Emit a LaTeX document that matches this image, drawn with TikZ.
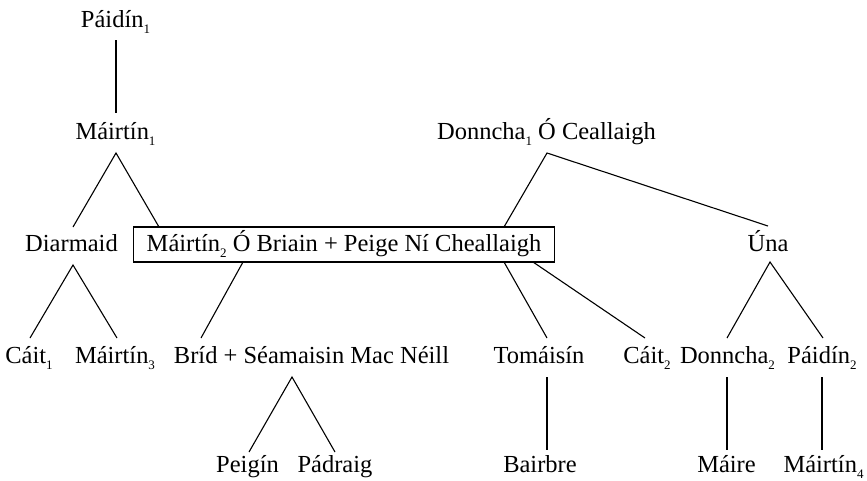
\documentclass[tikz,border=0pt]{standalone}
\usepackage{fontspec}
\setmainfont{Liberation Serif}
\newcommand\lowsub[1]{\raisebox{-6.5pt}{\fontsize{13}{13}\selectfont #1}}
\tikzset{
  nm/.style={inner sep=0pt, anchor=base, font=\fontsize{24.5}{29}\selectfont},
  bx/.style={nm, draw, line width=1.1pt, inner xsep=13.5pt, inner ysep=0pt, text height=24pt, text depth=11pt},
  ln/.style={line width=1.1pt}
}
\begin{document}
\begin{tikzpicture}[x=1pt,y=-1pt]
\useasboundingbox (0,0) rectangle (867,480);
% level 0-1
\node[nm] (pad1) at (115.5,27) {Páidín\lowsub{1}};
\node[nm] (mar1) at (115.5,139) {Máirtín\lowsub{1}};
\node[nm] (don1) at (546.5,139) {Donncha\lowsub{1} Ó Ceallaigh};
% level 2
\node[nm] (diar) at (71.5,251) {Diarmaid};
\node[bx] (box) at (344,251) {Máirtín\lowsub{2} Ó Briain + Peige Ní Cheallaigh};
\node[nm] (una) at (768,251) {Úna};
% level 3
\node[nm] (cait1) at (29,363) {Cáit\lowsub{1}};
\node[nm] (mar3) at (115,363) {Máirtín\lowsub{3}};
\node[nm] (brid) at (311.5,363) {Bríd + Séamaisin Mac Néill};
\node[nm] (tom) at (539,363) {Tomáisín};
\node[nm] (cait2) at (647,363) {Cáit\lowsub{2}};
\node[nm] (don2) at (727.5,363) {Donncha\lowsub{2}};
\node[nm] (pad2) at (822,363) {Páidín\lowsub{2}};
% level 4
\node[nm] (peig) at (247.5,472) {Peigín};
\node[nm] (padr) at (335,472) {Pádraig};
\node[nm] (bair) at (540,472) {Bairbre};
\node[nm] (maire) at (726.5,472) {Máire};
\node[nm] (mar4) at (823.5,472) {Máirtín\lowsub{4}};
% connector points
\coordinate (pad1b) at (116,40);
\coordinate (mar1t) at (116,113);
\coordinate (mar1b) at (116,153);
\coordinate (diart) at (73,227);
\coordinate (boxtl) at (159,227);
\coordinate (don1b) at (547,153);
\coordinate (boxtr) at (504,227);
\coordinate (unat) at (768,226);
\coordinate (diarb) at (73,265);
\coordinate (cait1t) at (30,338);
\coordinate (mar3t) at (117,338);
\coordinate (boxb1) at (243,262);
\coordinate (bridt) at (201,338);
\coordinate (boxb2) at (504,262);
\coordinate (tomt) at (547,338);
\coordinate (boxb3) at (533,262);
\coordinate (cait2t) at (645,338);
\coordinate (unab) at (770,262);
\coordinate (don2t) at (727,338);
\coordinate (pad2t) at (823,338);
\coordinate (bridb) at (292,377);
\coordinate (peigt) at (249,452);
\coordinate (padrt) at (335,452);
\coordinate (tomb) at (547,377);
\coordinate (bairt) at (547,450);
\coordinate (don2b) at (727,377);
\coordinate (mairet) at (727,450);
\coordinate (pad2b) at (822,377);
\coordinate (mar4t) at (822,450);
% connectors
\draw[ln] (pad1b) -- (mar1t);
\draw[ln] (diart) -- (mar1b) -- (boxtl);
\draw[ln] (boxtr) -- (don1b) -- (unat);
\draw[ln] (cait1t) -- (diarb) -- (mar3t);
\draw[ln] (boxb1) -- (bridt);
\draw[ln] (boxb2) -- (tomt);
\draw[ln] (boxb3) -- (cait2t);
\draw[ln] (don2t) -- (unab) -- (pad2t);
\draw[ln] (peigt) -- (bridb) -- (padrt);
\draw[ln] (tomb) -- (bairt);
\draw[ln] (don2b) -- (mairet);
\draw[ln] (pad2b) -- (mar4t);
\end{tikzpicture}
\end{document}
